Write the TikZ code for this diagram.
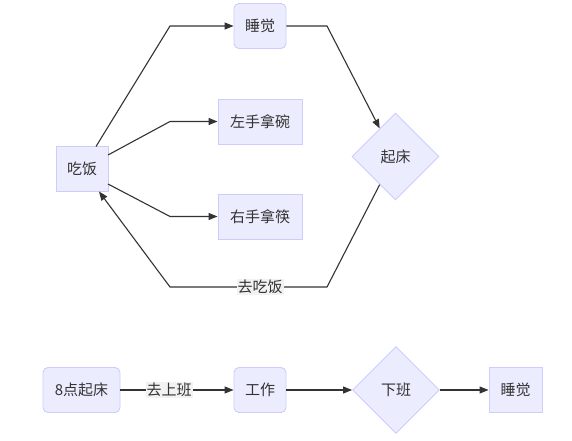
\documentclass[tikz,border=0pt]{standalone}
\usepackage{fontspec}
\setmainfont{Noto Sans CJK SC}
\usetikzlibrary{arrows.meta,shapes.geometric,calc}
\definecolor{nodefill}{HTML}{ECECFF}
\definecolor{nodeline}{HTML}{CCCCFF}
\definecolor{edgecol}{HTML}{333333}
\definecolor{lblbg}{HTML}{F2F2F2}
\tikzset{
  box/.style={draw=nodeline, fill=nodefill, line width=0.9pt, text=edgecol, font=\fontsize{15}{17}\selectfont, inner sep=0pt, minimum height=45pt},
  rbox/.style={box, rounded corners=5pt},
  dia/.style={draw=nodeline, fill=nodefill, line width=0.9pt, text=edgecol, font=\fontsize{15}{17}\selectfont, diamond, inner sep=0pt, minimum width=87pt, minimum height=87pt},
  edge/.style={draw=edgecol, line width=1.1pt, -{Triangle[length=9pt,width=7pt]}},
  lbl/.style={fill=lblbg, text=edgecol, font=\fontsize{15}{17}\selectfont, inner sep=1pt}
}
\begin{document}
\begin{tikzpicture}[x=1pt,y=-1pt]
\useasboundingbox (0,0) rectangle (572,441);
% top graph
\node[rbox, minimum width=52pt] (sleep) at (260,26) {睡觉};
\node[box, minimum width=52pt] (eat) at (82,169) {吃饭};
\node[box, minimum width=84pt] (left) at (260,121.5) {左手拿碗};
\node[box, minimum width=84pt] (right) at (260,216.5) {右手拿筷};
\node[dia] (up) at (395.5,156.5) {起床};
\coordinate (c1) at (170,26);
\coordinate (c2) at (170,121.5);
\coordinate (c3) at (170,216.5);
\coordinate (c4) at (327,26);
\coordinate (c5) at (327,287);
\coordinate (c6) at (170,287);
\coordinate (e1) at (96,146.5);
\coordinate (e2) at (108,155);
\coordinate (e3) at (108,184);
\coordinate (e4) at (99,191.5);
\coordinate (u1) at ($(up.west)!0.64!(up.north)$);
\coordinate (u2) at ($(up.west)!0.64!(up.south)$);
\draw[edge] (e1) -- (c1) -- (sleep.west);
\draw[edge] (e2) -- (c2) -- (left.west);
\draw[edge] (e3) -- (c3) -- (right.west);
\draw[edge] (sleep.east) -- (c4) -- (u1);
\draw[edge] (u2) -- (c5) -- (c6) -- (e4);
\node[lbl] (l1) at (260,287) {去吃饭};
% bottom graph
\node[rbox, minimum width=77pt] (b1) at (81.5,390) {8点起床};
\node[rbox, minimum width=52pt] (b2) at (260,390) {工作};
\node[dia] (b3) at (396,390) {下班};
\node[box, minimum width=53pt] (b4) at (515.5,390) {睡觉};
\draw[edge] (b1.east) -- (b2.west);
\node[lbl] (l2) at (169,390) {去上班};
\draw[edge] (b2.east) -- (b3.west);
\draw[edge] (b3.east) -- (b4.west);
\end{tikzpicture}
\end{document}
